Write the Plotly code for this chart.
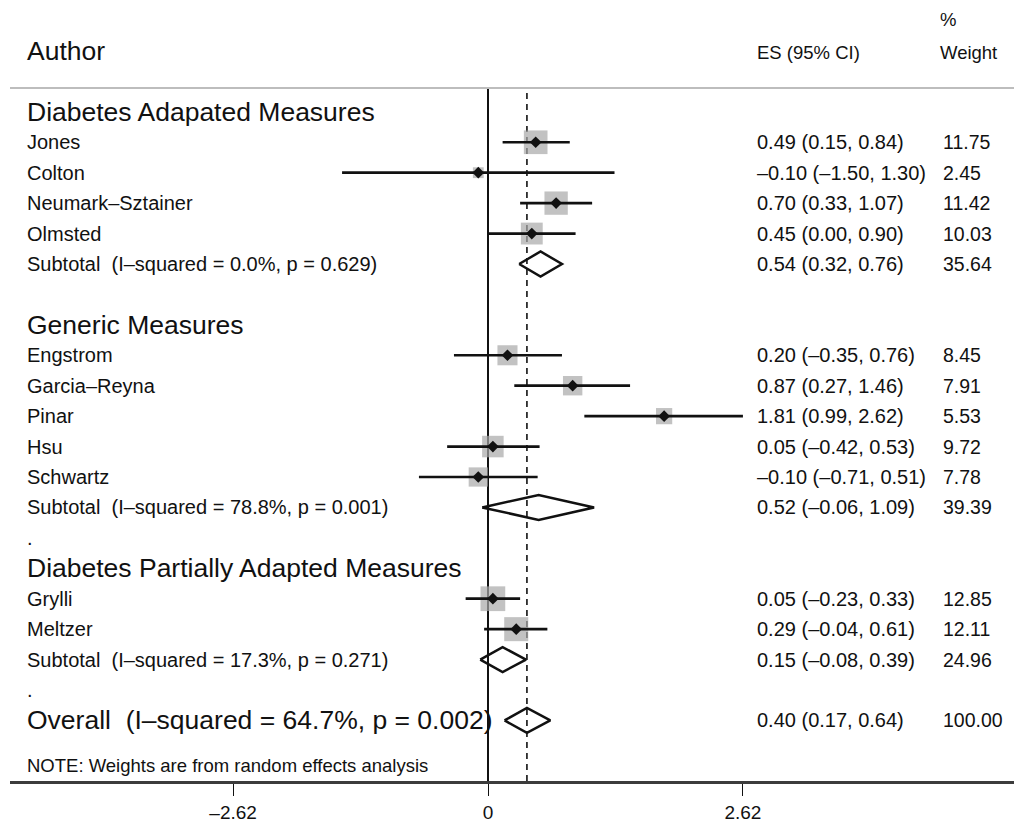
import math
import plotly.graph_objects as go

# ---- data -------------------------------------------------------------
group_titles = ["Diabetes Adapated Measures", "Generic Measures",
                "Diabetes Partially Adapted Measures"]

study_names = [
    ["Jones", "Colton", "Neumark–Sztainer", "Olmsted"],
    ["Engstrom", "Garcia–Reyna", "Pinar", "Hsu", "Schwartz"],
    ["Grylli", "Meltzer"],
]
study_es = [
    [0.49, -0.10, 0.70, 0.45],
    [0.20, 0.87, 1.81, 0.05, -0.10],
    [0.05, 0.29],
]
study_lo = [
    [0.15, -1.50, 0.33, 0.00],
    [-0.35, 0.27, 0.99, -0.42, -0.71],
    [-0.23, -0.04],
]
study_hi = [
    [0.84, 1.30, 1.07, 0.90],
    [0.76, 1.46, 2.62, 0.53, 0.51],
    [0.33, 0.61],
]
study_weight = [
    [11.75, 2.45, 11.42, 10.03],
    [8.45, 7.91, 5.53, 9.72, 7.78],
    [12.85, 12.11],
]

subtotal_es = [0.54, 0.52, 0.15]
subtotal_lo = [0.32, -0.06, -0.08]
subtotal_hi = [0.76, 1.09, 0.39]
subtotal_weight = [35.64, 39.39, 24.96]
subtotal_i2 = [0.0, 78.8, 17.3]
subtotal_p = [0.629, 0.001, 0.271]

overall_es, overall_lo, overall_hi = 0.40, 0.17, 0.64
overall_weight = 100.00
overall_i2, overall_p = 64.7, 0.002

tick_vals = [-2.62, 0, 2.62]
tick_text = ["–2.62", "0", "2.62"]

# ---- layout constants ---------------------------------------------------
W, H = 1014, 823
M_L, M_R, M_T, M_B = 10, 0, 88, 37
X_RANGE = [-4.913, 5.406]
Y_RANGE = [21.99, -0.783]          # rows, top to bottom
FONT = "Liberation Sans, Arial, Helvetica, sans-serif"
INK = "#111111"
BOX_GREY = "rgb(168,168,168)"
DIAMOND_HALF = 0.41                # in row units

X_NAME, X_ES, X_WT = 25, 755, 941
S_BIG, S_ROW, S_ES, S_WT, S_HEAD = 26.5, 20, 20, 19.5, 18.5


def px(xpix):
    """Horizontal pixel position -> paper fraction."""
    return (xpix - M_L) / (W - M_L - M_R)


def py(ypix):
    """Vertical pixel position -> paper fraction."""
    return (H - M_B - ypix) / (H - M_T - M_B)


def fmt(v):
    return f"{v:.2f}".replace("-", "–")


def es_label(es, lo, hi):
    return f"{fmt(es)} ({fmt(lo)}, {fmt(hi)})"


# ---- assign rows ---------------------------------------------------------
rows = []   # (row, kind, payload)
r = 0
for g in range(len(group_titles)):
    rows.append((r, "title", group_titles[g]))
    r += 1
    for i in range(len(study_names[g])):
        rows.append((r, "study", (g, i)))
        r += 1
    rows.append((r, "subtotal", g))
    r += 1
    rows.append((r, "blank" if g == 0 else "dot", None))
    r += 1
overall_row = r

fig = go.Figure()
annotations = []
shapes = []


def add_text(xpix, row, text, size, yref="y"):
    annotations.append(dict(
        x=px(xpix), xref="paper", y=row, yref=yref, text=text,
        showarrow=False, xanchor="left", yanchor="middle",
        font=dict(family=FONT, size=size, color=INK)))


box_x, box_y, box_s = [], [], []
ci_x, ci_y = [], []
pt_x, pt_y = [], []


def diamond(es, lo, hi, row):
    fig.add_trace(go.Scatter(
        x=[lo, es, hi, es, lo],
        y=[row, row - DIAMOND_HALF, row, row + DIAMOND_HALF, row],
        mode="lines", line=dict(color=INK, width=2.5), hoverinfo="skip",
        showlegend=False))


for row, kind, payload in rows:
    if kind == "title":
        add_text(X_NAME, row, payload, S_BIG)
    elif kind == "study":
        g, i = payload
        es, lo, hi, w = study_es[g][i], study_lo[g][i], study_hi[g][i], study_weight[g][i]
        add_text(X_NAME, row, study_names[g][i], S_ROW)
        add_text(X_ES, row, es_label(es, lo, hi), S_ES)
        add_text(X_WT, row, f"{w:.2f}", S_WT)
        box_x.append(es); box_y.append(row); box_s.append(6.9 * math.sqrt(w))
        ci_x += [lo, hi, None]; ci_y += [row, row, None]
        pt_x.append(es); pt_y.append(row)
    elif kind == "subtotal":
        g = payload
        add_text(X_NAME, row,
                 f"Subtotal\u00a0\u00a0(I–squared = {subtotal_i2[g]:.1f}%, p = {subtotal_p[g]:.3f})",
                 S_ROW)
        add_text(X_ES, row, es_label(subtotal_es[g], subtotal_lo[g], subtotal_hi[g]), S_ES)
        add_text(X_WT, row, f"{subtotal_weight[g]:.2f}", S_WT)
        diamond(subtotal_es[g], subtotal_lo[g], subtotal_hi[g], row)
    elif kind == "dot":
        add_text(X_NAME, row, ".", S_ROW)

# overall line
add_text(X_NAME, overall_row,
         f"Overall\u00a0\u00a0(I–squared = {overall_i2:.1f}%, p = {overall_p:.3f})", S_BIG)
add_text(X_ES, overall_row, es_label(overall_es, overall_lo, overall_hi), S_ES)
add_text(X_WT, overall_row, f"{overall_weight:.2f}", S_WT)
diamond(overall_es, overall_lo, overall_hi, overall_row)

# column headers and footnote
add_text(X_NAME, py(51), "Author", S_BIG, yref="paper")
add_text(X_ES, py(52), "ES (95% CI)", S_HEAD, yref="paper")
add_text(X_WT - 3, py(19), "%", S_HEAD, yref="paper")
add_text(X_WT - 3, py(52), "Weight", S_HEAD, yref="paper")
add_text(X_NAME, 21.47, "NOTE: Weights are from random effects analysis", S_HEAD)

# weight boxes, then confidence intervals, then point estimates
fig.add_trace(go.Scatter(
    x=box_x, y=box_y, mode="markers", hoverinfo="skip", showlegend=False,
    marker=dict(symbol="square", size=box_s, color=BOX_GREY, line=dict(width=0))))
fig.add_trace(go.Scatter(
    x=ci_x, y=ci_y, mode="lines", hoverinfo="skip", showlegend=False,
    line=dict(color=INK, width=2.7)))
fig.add_trace(go.Scatter(
    x=pt_x, y=pt_y, mode="markers", hoverinfo="skip", showlegend=False,
    marker=dict(symbol="diamond", size=9, color=INK, line=dict(width=0))))

# overall effect reference line (dashed)
shapes.append(dict(type="line", xref="x", yref="paper", x0=overall_es, x1=overall_es,
                   y0=0, y1=1, line=dict(color=INK, width=1.6, dash="6px,5px"),
                   layer="below"))
# header rule
shapes.append(dict(type="line", xref="paper", yref="paper", x0=0, x1=1, y0=1, y1=1,
                   line=dict(color="#bdbdbd", width=2)))

fig.update_layout(
    width=W, height=H,
    margin=dict(l=M_L, r=M_R, t=M_T, b=M_B),
    paper_bgcolor="white", plot_bgcolor="white",
    annotations=annotations, shapes=shapes,
    xaxis=dict(range=X_RANGE, showgrid=False, zeroline=True, zerolinecolor=INK,
               zerolinewidth=1.6, showline=True, linecolor="#3c3c3c", linewidth=2.5,
               tickmode="array", tickvals=tick_vals, ticktext=tick_text,
               ticks="outside", ticklen=12, tickwidth=1.4, tickcolor=INK,
               tickfont=dict(family=FONT, size=19, color=INK)),
    yaxis=dict(range=Y_RANGE, visible=False, showgrid=False, zeroline=False),
    showlegend=False,
)

fig.write_html("out.html")
